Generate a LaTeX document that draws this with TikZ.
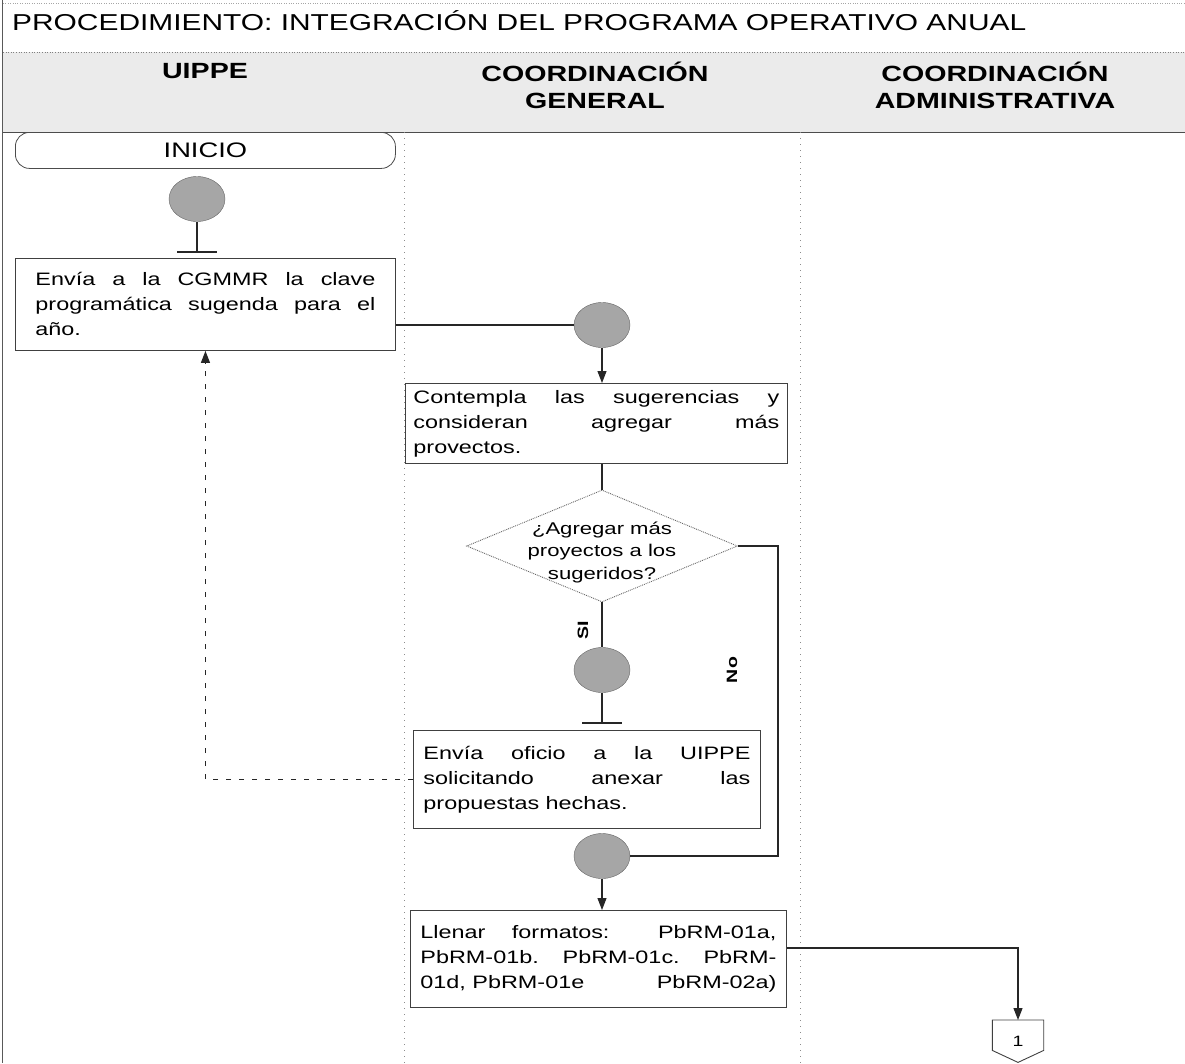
\documentclass[tikz,border=0pt]{standalone}
\usepackage{fontspec}
\setmainfont{Liberation Sans}[FakeStretch=1.3]
\usetikzlibrary{arrows.meta,shapes.geometric}
\newcommand\jline[2]{\makebox[#1][s]{#2}}
\newcommand\lline[2]{\makebox[#1][l]{#2}}
\begin{document}
\begin{tikzpicture}[x=1pt,y=-1pt,
  procbox/.style={draw=black!75, line width=0.9pt, anchor=north west, inner ysep=0pt, align=left, font=\fontsize{18}{25}\selectfont},
  connc/.style={ellipse, draw=black!60, fill=black!35, minimum width=56pt, minimum height=45pt, inner sep=0pt},
  flow/.style={draw=black!85, line width=1.1pt},
  arr/.style={flow, -{Triangle[length=12pt,width=9pt]}},
  lane/.style={draw=black!45, line width=0.6pt, dash pattern=on 1pt off 5pt},
  hdr/.style={font=\bfseries\fontsize{22}{27}\selectfont, align=center, inner sep=0pt},
  lbl/.style={rotate=90, font=\bfseries\fontsize{15}{15}\selectfont, inner sep=0pt},
]
\useasboundingbox (0,0) rectangle (1185,1063);
% frame and header band
\fill[black!8] (3,52) rectangle (1185,132);
\draw[black!35, dotted] (3,3) -- (1185,3);
\draw[black!50, line width=0.6pt, dotted] (3,52) -- (1185,52);
\draw[black!70, line width=1pt] (3,132) -- (1185,132);
\draw[black!65, line width=1pt] (2,0) -- (2,1063);
\draw[lane] (404,132) -- (404,1063);
\draw[lane] (800,132) -- (800,1063);

\node[anchor=base west, font=\fontsize{23}{23}\selectfont, inner sep=0pt] (title) at (12,30) {PROCEDIMIENTO: INTEGRACIÓN DEL PROGRAMA OPERATIVO ANUAL};
\node[hdr] (h1) at (205,71) {UIPPE};
\node[hdr] (h2) at (595,85) {COORDINACIÓN\\GENERAL};
\node[hdr] (h3) at (995,85) {COORDINACIÓN\\ADMINISTRATIVA};

% start
\node[draw=black!70, line width=0.8pt, rounded corners=14pt, minimum width=380pt, minimum height=36pt, anchor=north west, inner sep=0pt, font=\fontsize{21}{21}\selectfont] (inicio) at (15,132) {INICIO};
\node[connc] (c1) at (197,199) {};
\coordinate (t1) at (197,252);
\draw[flow] (c1) -- (t1);
\draw[flow] (t1) +(-20,0) -- +(20,0);

\node[procbox, inner xsep=20pt, minimum height=92pt] (box1) at (15,258)
 {\jline{340pt}{Envía a la CGMMR la clave}\\\jline{340pt}{programática sugenda para el}\\\lline{340pt}{año.}};

\node[connc] (c2) at (602,325) {};
\draw[flow] (box1.east |- c2) -- (c2);

\node[procbox, inner xsep=8pt, minimum height=80pt] (box2) at (405,383)
 {\jline{366pt}{Contempla las sugerencias y}\\\jline{366pt}{consideran agregar más}\\\lline{366pt}{provectos.}};
\draw[arr] (c2) -- (c2 |- box2.north);

\node[diamond, draw=black!60, line width=0.9pt, densely dotted, minimum width=271pt, minimum height=112pt, inner sep=0pt] (dia) at (602,546) {};
\node[align=center, font=\fontsize{17}{22.5}\selectfont, inner sep=0pt] (dtext) at (602,552) {¿Agregar más\\proyectos a los\\sugeridos?};
\draw[flow] (box2.south -| dia) -- (dia.north);

\node[connc] (c3) at (602,670) {};
\draw[flow] (dia.south) -- (c3);
\node[lbl] (si) at (583,630) {SI};
\coordinate (t3) at (602,723);
\draw[flow] (c3) -- (t3);
\draw[flow] (t3) +(-20,0) -- +(20,0);

\node[procbox, inner xsep=10pt, minimum height=98pt] (box3) at (413,730)
 {\jline{327pt}{Envía oficio a la UIPPE}\\\jline{327pt}{solicitando anexar las}\\\lline{327pt}{propuestas hechas.}};

\node[connc] (c4) at (602,856) {};
\coordinate (nr) at (778,546);
\draw[flow] (dia.east) -- (nr) |- (c4.east);
\node[lbl] (no) at (732,670) {No};

\draw[flow, dash pattern=on 5pt off 8pt, -{Triangle[length=12pt,width=9pt]}] (box3.west) -| (box1.south);

\node[procbox, inner xsep=10pt, minimum height=97pt] (box4) at (410,910)
 {\jline{356pt}{Llenar formatos: PbRM-01a,}\\\jline{356pt}{PbRM-01b. PbRM-01c. PbRM-}\\\makebox[356pt][l]{01d, PbRM-01e\hfill PbRM-02a)}};
\draw[arr] (c4) -- (c4 |- box4.north);

\node[minimum width=51pt, minimum height=42pt, anchor=north, inner sep=0pt, font=\fontsize{15}{15}\selectfont] (pg) at (1018,1020) {1};
\draw[black!75, line width=0.9pt] (pg.north west) -- (pg.north east) -- ([yshift=12pt]pg.south east) -- (pg.south) -- ([yshift=12pt]pg.south west) -- cycle;
\draw[arr] ([yshift=11pt]box4.east) -| (pg.north);
\end{tikzpicture}
\end{document}
